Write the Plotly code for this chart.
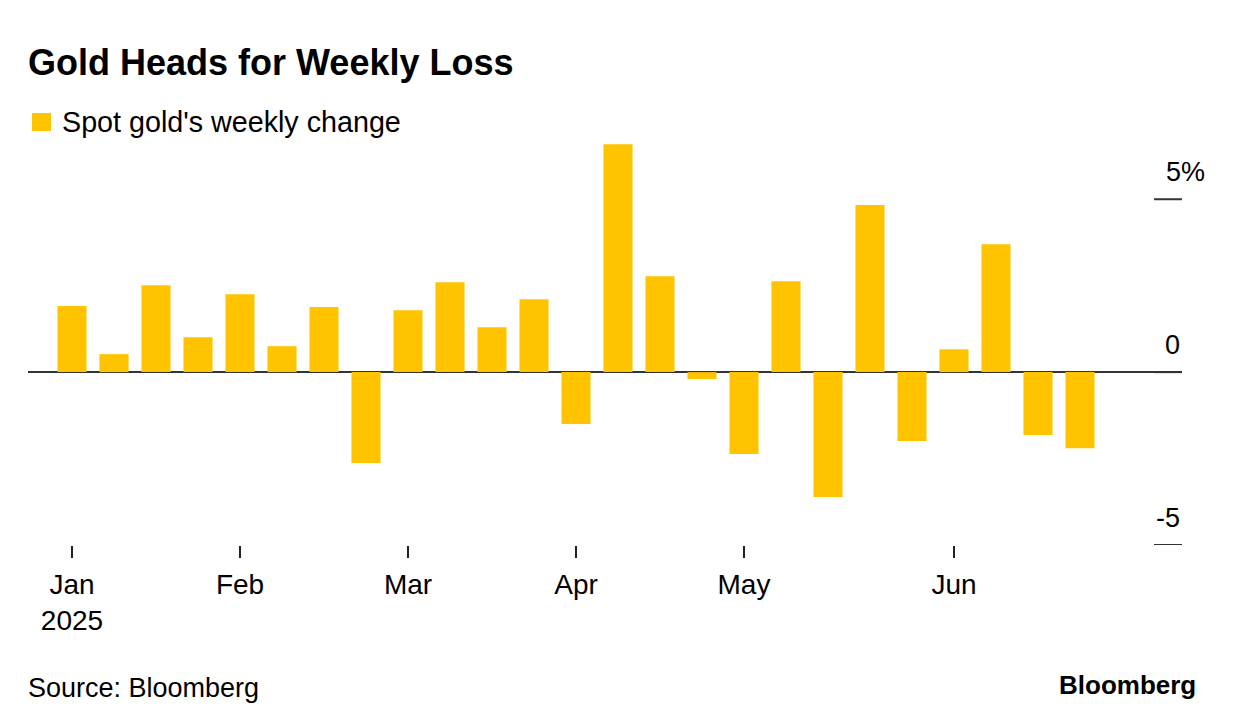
import plotly.graph_objects as go

# ---- data ----
week_ending = [
    "2025-01-10", "2025-01-17", "2025-01-24", "2025-01-31",
    "2025-02-07", "2025-02-14", "2025-02-21", "2025-02-28",
    "2025-03-07", "2025-03-14", "2025-03-21", "2025-03-28",
    "2025-04-04", "2025-04-11", "2025-04-18", "2025-04-25",
    "2025-05-02", "2025-05-09", "2025-05-16", "2025-05-23", "2025-05-30",
    "2025-06-06", "2025-06-13", "2025-06-20", "2025-06-27",
]
weekly_change = [
    1.91, 0.52, 2.51, 1.01,
    2.25, 0.75, 1.88, -2.63,
    1.79, 2.60, 1.30, 2.11,
    -1.50, 6.59, 2.77, -0.20,
    -2.37, 2.63, -3.61, 4.83, -1.99,
    0.66, 3.70, -1.82, -2.20,
]
x_tick_vals = ["2025-01-10", "2025-02-07", "2025-03-07", "2025-04-04", "2025-05-02", "2025-06-06"]
x_tick_text = ["Jan<br>2025", "Feb", "Mar", "Apr", "May", "Jun"]
y_tick_vals = [5, 0, -5]
y_tick_text = ["5%", "0", "-5"]

series_name = "Spot gold's weekly change"
title_text = "Gold Heads for Weekly Loss"
source_text = "Source: Bloomberg"
brand_text = "Bloomberg"

GOLD = "#FFC300"
INK = "#000000"
FONT = "Liberation Sans, Arial, Helvetica, sans-serif"

W, H = 1236, 728
L, R, T, B = 28, 1182, 137, 545  # plot area in pixels


def px_x(p):
    return (p - L) / (R - L)


def px_y(p):
    return (B - p) / (B - T)


fig = go.Figure()
fig.add_trace(go.Bar(
    x=week_ending, y=weekly_change, name=series_name,
    marker=dict(color=GOLD, line=dict(width=0)),
    width=4.85 * 86400000, showlegend=False,
))

fig.update_layout(
    width=W, height=H,
    margin=dict(l=L, r=W - R, t=T, b=H - B, pad=0),
    paper_bgcolor="white", plot_bgcolor="white",
    font=dict(family=FONT, color=INK),
    xaxis=dict(
        type="date", range=["2025-01-02 16:00:00", "2025-07-14"],
        tickmode="array", tickvals=x_tick_vals, ticktext=x_tick_text,
        ticks="outside", ticklen=12, tickwidth=2, tickcolor="#222222",
        showgrid=False, showline=False, zeroline=False,
        tickfont=dict(size=28, family=FONT, color=INK),
        ticklabelstandoff=2,
    ),
    yaxis=dict(
        range=[-5, 6.8], showgrid=False, showticklabels=False,
        zeroline=True, zerolinecolor="#333333", zerolinewidth=2,
        showline=False, ticks="",
    ),
)

shapes = []
annotations = []
for v, t in zip(y_tick_vals, y_tick_text):
    shapes.append(dict(type="line", xref="paper", yref="y",
                       x0=px_x(1154), x1=1, y0=v, y1=v,
                       line=dict(color="#333333", width=2)))
    annotations.append(dict(xref="paper", yref="y", x=1, y=v, text=t,
                            xanchor="right", yanchor="middle", yshift=27,
                            xshift=(25 if t.endswith("%") else 0),
                            showarrow=False, font=dict(size=27, color=INK, family=FONT)))

# legend swatch + label
shapes.append(dict(type="rect", xref="paper", yref="paper",
                   x0=px_x(32), x1=px_x(51), y0=px_y(131), y1=px_y(113),
                   fillcolor=GOLD, line=dict(width=0)))
annotations.append(dict(xref="paper", yref="paper", x=px_x(60), y=px_y(122),
                        text=series_name, xanchor="left", yanchor="middle",
                        showarrow=False, font=dict(size=28.7, color=INK, family=FONT)))
# title
annotations.append(dict(xref="paper", yref="paper", x=px_x(26), y=px_y(62),
                        text="<b>" + title_text + "</b>", xanchor="left", yanchor="middle",
                        showarrow=False, font=dict(size=36, color=INK, family=FONT)))
# source + brand
annotations.append(dict(xref="paper", yref="paper", x=px_x(26), y=px_y(688),
                        text=source_text, xanchor="left", yanchor="middle",
                        showarrow=False, font=dict(size=27, color=INK, family=FONT)))
annotations.append(dict(xref="paper", yref="paper", x=px_x(1198), y=px_y(685),
                        text="<b>" + brand_text + "</b>", xanchor="right", yanchor="middle",
                        showarrow=False, font=dict(size=26, color=INK, family=FONT)))

fig.update_layout(shapes=shapes, annotations=annotations)
fig.write_html("out.html", config={"displayModeBar": False},
               post_script="document.body.style.margin='0';")
